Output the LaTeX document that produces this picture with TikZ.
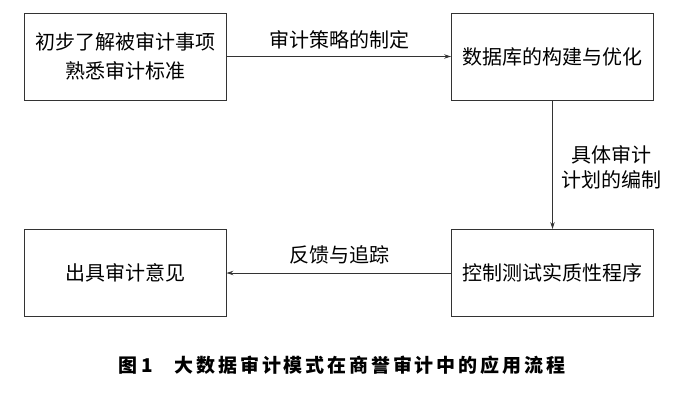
\documentclass[tikz,border=0pt]{standalone}
\usepackage{fontspec}
\setmainfont{Noto Sans CJK SC}
\newfontfamily\capfont[LetterSpace=15]{Noto Sans CJK SC}
\usetikzlibrary{arrows.meta}
\tikzset{every path/.style={line width=0.9pt}}
\tikzset{stepbox/.style={draw=black!80, minimum width=202pt, minimum height=87pt, inner sep=0pt, align=center, font=\fontsize{20}{29}\selectfont},
  flowlabel/.style={align=center, font=\fontsize{20}{25}\selectfont},
  flowarrow/.style={draw=black!80, -{Stealth[length=7pt,width=4.5pt]}}}

\begin{document}
\begin{tikzpicture}[x=1pt,y=-1pt]
\useasboundingbox (0,0) rectangle (700,410);
\node[stepbox] (survey) at (125,56.5) {初步了解被审计事项\\熟悉审计标准};
\node[stepbox] (database) at (552.5,56.5) {数据库的构建与优化};
\node[stepbox] (testing) at (552.5,273) {控制测试实质性程序};
\node[stepbox] (opinion) at (125,273) {出具审计意见};
%\node at (339,150) {};
\draw[flowarrow] (survey) -- (database);
\draw[flowarrow] (database) -- (testing);
\draw[flowarrow] (testing) -- (opinion);
\node[flowlabel] (strategy) at (339,40) {审计策略的制定};
\node[flowlabel] (plan) at (611,167) {具体审计\\计划的编制};
\node[flowlabel] (feedback) at (339,255) {反馈与追踪};
\node (caption) at (342,365) {\capfont\bfseries\fontsize{19}{22}\selectfont 图\,1\hspace{22pt}大数据审计模式在商誉审计中的应用流程};
\end{tikzpicture}
\end{document}
